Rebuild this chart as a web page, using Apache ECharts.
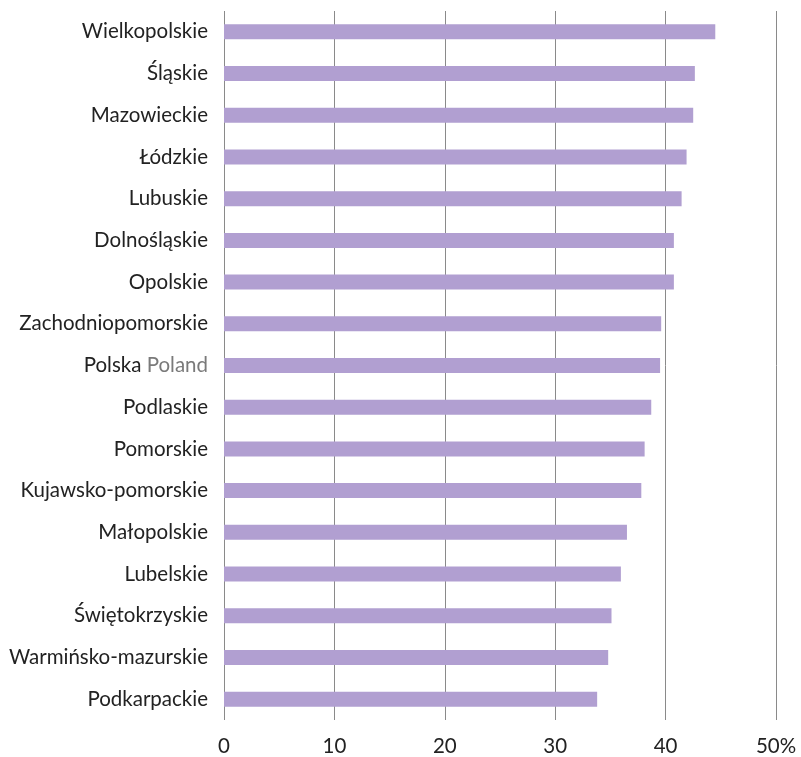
<!DOCTYPE html>
<html><head><meta charset="utf-8">
<script src="https://cdn.jsdelivr.net/npm/echarts@6/dist/echarts.min.js"></script>
<style>html,body{margin:0;padding:0;background:#fff}#c{width:801px;height:757px}</style>
</head><body><div id="c"></div>
<script>
const categories = ["Wielkopolskie","Śląskie","Mazowieckie","Łódzkie","Lubuskie","Dolnośląskie","Opolskie","Zachodniopomorskie","Polska Poland","Podlaskie","Pomorskie","Kujawsko-pomorskie","Małopolskie","Lubelskie","Świętokrzyskie","Warmińsko-mazurskie","Podkarpackie"];
const values = [44.5,42.65,42.5,41.9,41.45,40.75,40.75,39.6,39.5,38.7,38.1,37.8,36.5,35.95,35.1,34.8,33.8];
const xTicks = [0,10,20,30,40,50];

const font = 'Lato, "Noto Sans", sans-serif';
const fs = 20.5;
const chart = echarts.init(document.getElementById('c'), null, {renderer:'canvas'});
chart.setOption({
  animation:false,
  grid:{left:224,right:25,top:11,bottom:34,containLabel:false},
  xAxis:{type:'value',min:0,max:50,interval:10,
    axisLine:{show:false},axisTick:{show:false},
    splitLine:{show:true,lineStyle:{color:'#8a8a8a',width:1}},
    axisLabel:{margin:16,fontSize:fs,color:'#222',fontFamily:font,
      formatter:v=> v===xTicks[xTicks.length-1] ? v+'%' : String(v)}},
  yAxis:{type:'category',data:categories,inverse:true,
    axisLine:{show:false},axisTick:{show:false},
    axisLabel:{margin:16,fontSize:fs,color:'#222',fontFamily:font,
      formatter:v=>{ if(v==='Polska Poland') return '{a|Polska} {b|Poland}'; return v;},
      rich:{a:{fontSize:fs,color:'#222',fontFamily:font},b:{fontSize:fs,color:'#7a7a7a',fontFamily:font}}}},
  series:[{type:'bar',data:values,barWidth:15,itemStyle:{color:'#b19fd1'}}]
});
</script></body></html>
